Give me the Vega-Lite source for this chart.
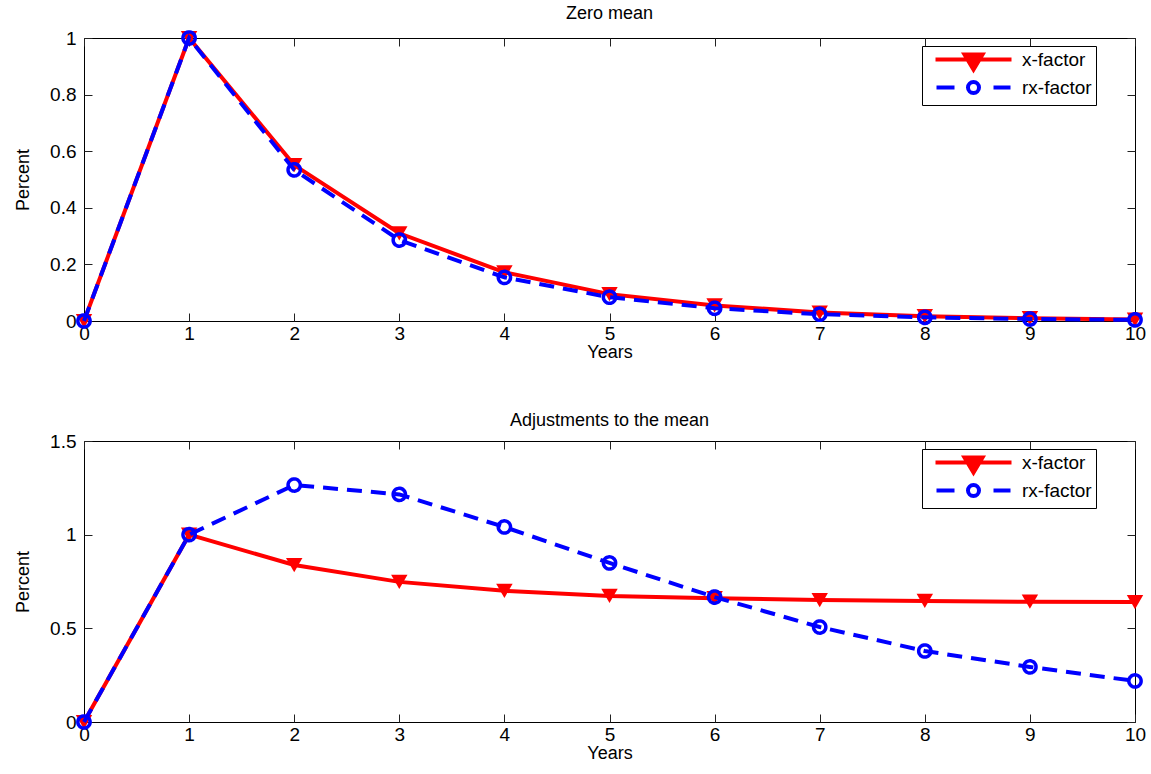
{
  "$schema": "https://vega.github.io/schema/vega-lite/v6.json",
  "padding": {"left": 14, "top": 4, "right": 0, "bottom": 0},
  "background": "white",
  "datasets": {
    "zero": [
      {"year": 0, "series": "x-factor", "value": 0},
      {"year": 1, "series": "x-factor", "value": 1},
      {"year": 2, "series": "x-factor", "value": 0.551},
      {"year": 3, "series": "x-factor", "value": 0.31},
      {"year": 4, "series": "x-factor", "value": 0.172},
      {"year": 5, "series": "x-factor", "value": 0.095},
      {"year": 6, "series": "x-factor", "value": 0.055},
      {"year": 7, "series": "x-factor", "value": 0.03},
      {"year": 8, "series": "x-factor", "value": 0.017},
      {"year": 9, "series": "x-factor", "value": 0.01},
      {"year": 10, "series": "x-factor", "value": 0.005},
      {"year": 0, "series": "rx-factor", "value": 0},
      {"year": 1, "series": "rx-factor", "value": 1},
      {"year": 2, "series": "rx-factor", "value": 0.534},
      {"year": 3, "series": "rx-factor", "value": 0.286},
      {"year": 4, "series": "rx-factor", "value": 0.154},
      {"year": 5, "series": "rx-factor", "value": 0.084},
      {"year": 6, "series": "rx-factor", "value": 0.045},
      {"year": 7, "series": "rx-factor", "value": 0.024},
      {"year": 8, "series": "rx-factor", "value": 0.013},
      {"year": 9, "series": "rx-factor", "value": 0.007},
      {"year": 10, "series": "rx-factor", "value": 0.004}
    ],
    "adj": [
      {"year": 0, "series": "x-factor", "value": 0},
      {"year": 1, "series": "x-factor", "value": 1},
      {"year": 2, "series": "x-factor", "value": 0.838},
      {"year": 3, "series": "x-factor", "value": 0.748},
      {"year": 4, "series": "x-factor", "value": 0.7},
      {"year": 5, "series": "x-factor", "value": 0.673},
      {"year": 6, "series": "x-factor", "value": 0.661},
      {"year": 7, "series": "x-factor", "value": 0.651},
      {"year": 8, "series": "x-factor", "value": 0.646},
      {"year": 9, "series": "x-factor", "value": 0.642},
      {"year": 10, "series": "x-factor", "value": 0.64},
      {"year": 0, "series": "rx-factor", "value": 0},
      {"year": 1, "series": "rx-factor", "value": 1},
      {"year": 2, "series": "rx-factor", "value": 1.265},
      {"year": 3, "series": "rx-factor", "value": 1.215},
      {"year": 4, "series": "rx-factor", "value": 1.041},
      {"year": 5, "series": "rx-factor", "value": 0.849},
      {"year": 6, "series": "rx-factor", "value": 0.667},
      {"year": 7, "series": "rx-factor", "value": 0.507},
      {"year": 8, "series": "rx-factor", "value": 0.379},
      {"year": 9, "series": "rx-factor", "value": 0.294},
      {"year": 10, "series": "rx-factor", "value": 0.219}
    ]
  },
  "config": {
    "view": {"stroke": "black", "strokeWidth": 1},
    "font": "Liberation Sans",
    "axis": {
      "grid": false,
      "domain": false,
      "tickColor": "#222222",
      "tickSize": -8,
      "labelFont": "Liberation Sans",
      "labelFontSize": 19,
      "labelColor": "black",
      "labelFlush": false,
      "titleFont": "Liberation Sans",
      "titleFontSize": 18,
      "titleFontWeight": "normal",
      "titleColor": "black"
    },
    "axisBottom": {"labelPadding": 11, "titlePadding": 0},
    "axisLeft": {"labelPadding": 16, "titlePadding": 17},
    "title": {"font": "Liberation Sans", "fontSize": 18, "fontWeight": "normal", "color": "black", "frame": "group", "offset": 2},
    "legend": {
      "orient": "none", "legendX": 838, "legendY": 8, "title": null,
      "symbolType": "M-7.6,0L7.6,0", "symbolSize": 100, "symbolStrokeWidth": 4, "symbolOffset": 38,
      "labelFont": "Liberation Sans", "labelFontSize": 19, "labelColor": "black", "labelOffset": 39,
      "strokeColor": "black", "fillColor": "white", "padding": 4, "rowPadding": -11
    }
  },
  "spacing": 49,
  "resolve": {"scale": {"color": "independent"}},
  "vconcat": [
    {
      "title": "Zero mean",
      "width": 1051,
      "height": 283,
      "data": {"name": "zero"},
      "layer": [
        {
          "transform": [{"filter": "datum.series === 'x-factor'"}],
          "mark": {"type": "line", "strokeWidth": 4, "point": {"shape": "triangle-down", "size": 270, "filled": true, "strokeWidth": 1}},
          "encoding": {
            "x": {"field": "year", "type": "quantitative", "scale": {"domain": [0, 10], "nice": false},
                  "axis": {"orient": "bottom", "title": "Years", "values": [0,1,2,3,4,5,6,7,8,9,10]}},
            "y": {"field": "value", "type": "quantitative", "scale": {"domain": [0, 1], "nice": false},
                  "axis": {"orient": "left", "title": "Percent", "values": [0,0.2,0.4,0.6,0.8,1], "format": "~g"}},
            "color": {"field": "series", "type": "nominal",
                      "scale": {"domain": ["x-factor", "rx-factor"], "range": ["#ff0000", "#0000ff"]},
                      "legend": {
                        "encode": {"symbols": {"update": {
                          "shape": {"signal": "datum.value === 'x-factor' ? 'M-7.6,0L7.6,0M-1.8,-1L1.8,-1L0,2Z' : 'M-7.4,0L-3.8,0M4,0L7.4,0M-1.1,0A1.1,1.1,0,1,0,1.1,0A1.1,1.1,0,1,0,-1.1,0'"},
                          "fill": {"signal": "datum.value === 'x-factor' ? '#ff0000' : 'transparent'"},
                          "fillOpacity": {"signal": "datum.value === 'x-factor' ? 1 : 0"},
                          "stroke": {"signal": "datum.value === 'x-factor' ? '#ff0000' : '#0000ff'"}
                        }}}
                      }}
          }
        },
        {
          "transform": [{"filter": "datum.series === 'rx-factor'"}],
          "mark": {"type": "line", "strokeWidth": 4, "strokeDash": [15, 9], "point": {"shape": "circle", "size": 150, "filled": false, "fill": "transparent", "strokeWidth": 3.5, "strokeDash": [1, 0]}},
          "encoding": {
            "x": {"field": "year", "type": "quantitative", "scale": {"domain": [0, 10], "nice": false},
                  "axis": {"orient": "top", "title": null, "labels": false, "values": [0,1,2,3,4,5,6,7,8,9,10]}},
            "y": {"field": "value", "type": "quantitative", "scale": {"domain": [0, 1], "nice": false},
                  "axis": {"orient": "right", "title": null, "labels": false, "values": [0,0.2,0.4,0.6,0.8,1]}},
            "color": {"field": "series", "type": "nominal",
                      "scale": {"domain": ["x-factor", "rx-factor"], "range": ["#ff0000", "#0000ff"]}}
          }
        }
      ],
      "resolve": {"axis": {"x": "independent", "y": "independent"}}
    },
    {
      "title": "Adjustments to the mean",
      "width": 1051,
      "height": 281,
      "data": {"name": "adj"},
      "layer": [
        {
          "transform": [{"filter": "datum.series === 'x-factor'"}],
          "mark": {"type": "line", "strokeWidth": 4, "point": {"shape": "triangle-down", "size": 270, "filled": true, "strokeWidth": 1}},
          "encoding": {
            "x": {"field": "year", "type": "quantitative", "scale": {"domain": [0, 10], "nice": false},
                  "axis": {"orient": "bottom", "title": "Years", "values": [0,1,2,3,4,5,6,7,8,9,10]}},
            "y": {"field": "value", "type": "quantitative", "scale": {"domain": [0, 1.5], "nice": false},
                  "axis": {"orient": "left", "title": "Percent", "values": [0,0.5,1,1.5], "format": "~g"}},
            "color": {"field": "series", "type": "nominal",
                      "scale": {"domain": ["x-factor", "rx-factor"], "range": ["#ff0000", "#0000ff"]},
                      "legend": {
                        "encode": {"symbols": {"update": {
                          "shape": {"signal": "datum.value === 'x-factor' ? 'M-7.6,0L7.6,0M-1.8,-1L1.8,-1L0,2Z' : 'M-7.4,0L-3.8,0M4,0L7.4,0M-1.1,0A1.1,1.1,0,1,0,1.1,0A1.1,1.1,0,1,0,-1.1,0'"},
                          "fill": {"signal": "datum.value === 'x-factor' ? '#ff0000' : 'transparent'"},
                          "fillOpacity": {"signal": "datum.value === 'x-factor' ? 1 : 0"},
                          "stroke": {"signal": "datum.value === 'x-factor' ? '#ff0000' : '#0000ff'"}
                        }}}
                      }}
          }
        },
        {
          "transform": [{"filter": "datum.series === 'rx-factor'"}],
          "mark": {"type": "line", "strokeWidth": 4, "strokeDash": [15, 9], "point": {"shape": "circle", "size": 150, "filled": false, "fill": "transparent", "strokeWidth": 3.5, "strokeDash": [1, 0]}},
          "encoding": {
            "x": {"field": "year", "type": "quantitative", "scale": {"domain": [0, 10], "nice": false},
                  "axis": {"orient": "top", "title": null, "labels": false, "values": [0,1,2,3,4,5,6,7,8,9,10]}},
            "y": {"field": "value", "type": "quantitative", "scale": {"domain": [0, 1.5], "nice": false},
                  "axis": {"orient": "right", "title": null, "labels": false, "values": [0,0.5,1,1.5]}},
            "color": {"field": "series", "type": "nominal",
                      "scale": {"domain": ["x-factor", "rx-factor"], "range": ["#ff0000", "#0000ff"]}}
          }
        }
      ],
      "resolve": {"axis": {"x": "independent", "y": "independent"}}
    }
  ]
}
